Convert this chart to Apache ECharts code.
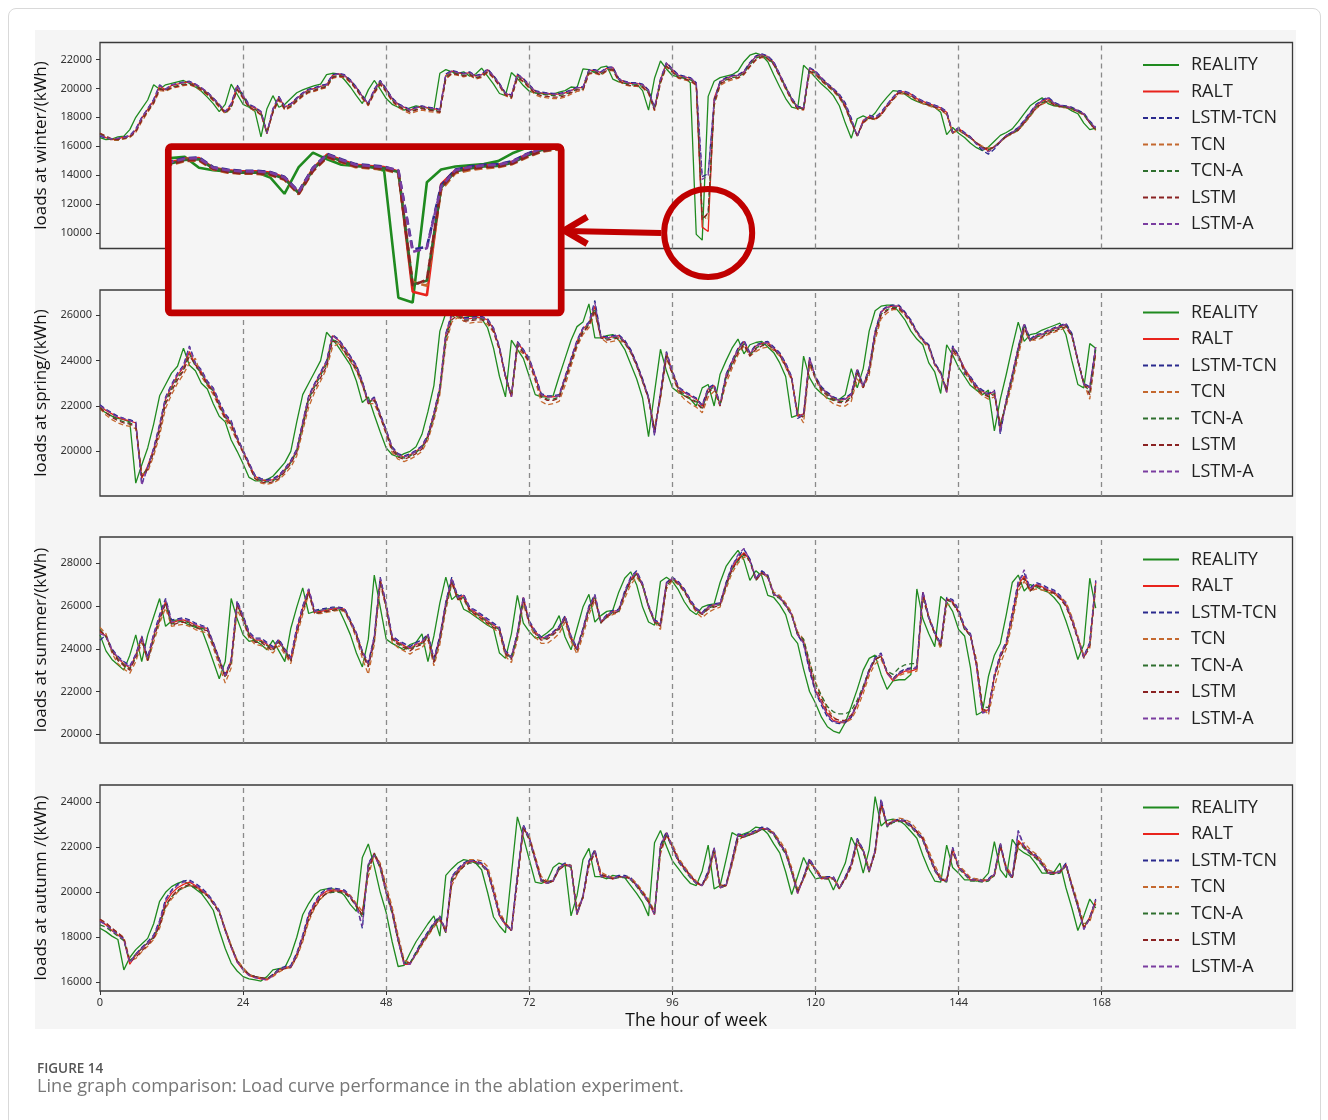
<!DOCTYPE html>
<html>
<head>
<meta charset="utf-8">
<script src="https://cdn.jsdelivr.net/npm/echarts@6/dist/echarts.min.js"></script>
<style>
  html, body { margin: 0; padding: 0; background: #ffffff; }
  #card { position: absolute; left: 8px; top: 8px; width: 1311px; height: 1130px; border: 1px solid #d9d9d9; border-radius: 8px; }
  #panel { position: absolute; left: 35px; top: 30px; width: 1261px; height: 999px; background: #f5f5f5; }
  #chart { position: absolute; left: 0; top: 0; width: 1328px; height: 1120px; }
</style>
</head>
<body>
<div id="card"></div>
<div id="panel"></div>
<div id="chart"></div>
<script>
// ---- axis ticks -----------------------------------------------------------
const hourTicks = [0, 24, 48, 72, 96, 120, 144, 168];
const dayLines = [24, 48, 72, 96, 120, 144, 168];
const winterTicks = [10000, 12000, 14000, 16000, 18000, 20000, 22000];
const springTicks = [20000, 22000, 24000, 26000];
const summerTicks = [20000, 22000, 24000, 26000, 28000];
const autumnTicks = [16000, 18000, 20000, 22000, 24000];

// ---- hourly loads (kWh), hour 0..167 of the week ---------------------------
// winter
const winterReality = [
16600,16450,16500,16650,16700,17150,18000,18600,19200,20250,19950,20250,
20350,20450,20550,20350,20100,19800,19400,18950,18400,18900,20300,19600,
18900,18700,18400,16650,18600,19500,18700,18900,19300,19700,19900,20050,
20200,20300,20950,21050,21000,20600,20100,19500,18950,19900,20550,19950,
19300,18900,18700,18500,18650,18800,18700,18650,18500,21050,21300,21150,
21050,21150,20850,21000,21400,20850,20300,19650,19500,21100,20700,20200,
19800,19700,19650,19600,19600,19750,19850,20100,20050,21350,21300,21100,
21450,21550,20650,20450,20350,20350,20300,19850,18500,20700,21900,21350,
20900,20800,20750,20400,9900,9500,19450,20500,20750,20850,20950,21200,
21850,22300,22450,22300,21850,20950,20100,19300,18700,18600,21600,21200,
20750,20300,19950,19500,18800,17600,16550,17900,18100,17900,18300,18900,
19400,19850,19800,19600,19300,19100,18950,18850,18700,18350,16800,17300,
16900,16600,16200,15900,15700,15950,16350,16750,16950,17200,17700,18250,
18800,19100,19350,18950,18800,18750,18700,18450,18250,17600,17150,17250];
const winterRALT = [
16800,16600,16450,16500,16650,16700,17100,17950,18550,19150,20150,19900,
20200,20300,20400,20450,20250,20000,19700,19300,18850,18350,18850,20150,
19500,18800,18650,18350,16850,18500,19400,18700,18900,19300,19650,19900,
20000,20150,20250,20900,21000,20900,20550,20050,19450,18900,19850,20450,
19950,19300,18900,18700,18500,18650,18750,18650,18600,18500,20900,21200,
21100,21000,21100,20850,20950,21300,20850,20300,19650,19500,20950,20650,
20200,19800,19700,19650,19600,19600,19700,19850,20050,20050,21250,21250,
21100,21400,21450,20650,20450,20350,20350,20250,19850,18600,20600,21750,
21300,20900,20800,20700,20350,10400,10100,19300,20450,20700,20850,20900,
21150,21750,22200,22350,22200,21800,20950,20100,19300,18700,18650,21400,
21150,20700,20300,19950,19500,18850,17750,16700,17800,18050,17900,18250,
18850,19350,19800,19750,19600,19300,19100,18950,18800,18650,18350,16900,
17250,16900,16600,16200,15900,15700,15950,16350,16750,16950,17200,17700,
18250,18800,19100,19300,18950,18800,18750,18650,18450,18250,17650,17200];
const winterLSTMTCN = [
16700,16550,16500,16550,16650,16750,17200,18000,18600,19250,20250,19950,
20250,20350,20450,20500,20300,20050,19750,19350,18900,18400,18950,20250,
19550,18900,18700,18400,16950,18600,19450,18750,18950,19350,19700,19950,
20050,20200,20300,20950,21050,20950,20600,20100,19500,19000,19950,20550,
20000,19350,18950,18750,18550,18700,18800,18700,18650,18550,21000,21250,
21150,21050,21150,20900,21000,21350,20900,20350,19700,19550,21000,20700,
20250,19850,19750,19700,19650,19650,19750,19900,20100,20100,21300,21300,
21150,21450,21500,20700,20500,20400,20400,20300,19900,18700,20650,21800,
21350,20950,20850,20750,20400,13900,14100,19200,20500,20750,20900,20950,
21200,21800,22250,22400,22250,21850,21000,20150,19350,18750,18700,21450,
21200,20750,20350,20000,19600,19000,17950,16650,17700,18150,18000,18350,
18900,19400,19850,19800,19650,19350,19150,19000,18850,18700,18400,17000,
17300,16950,16650,16150,15700,15450,15800,16300,16750,17000,17300,17800,
18350,18900,19200,19400,19050,18850,18800,18700,18500,18300,17750,17300];
const winterTCN = [
16900,16650,16400,16400,16500,16600,16950,17700,18350,18950,19850,19800,
20000,20100,20200,20250,20100,19850,19550,19150,18700,18250,18650,19900,
19300,18650,18450,18150,16950,18300,19200,18500,18700,19100,19450,19700,
19800,19950,20050,20700,20800,20750,20400,19900,19300,18800,19650,20250,
19750,19100,18700,18450,18250,18400,18500,18400,18350,18300,20650,21000,
20900,20800,20900,20650,20750,21100,20700,20150,19500,19300,20700,20450,
20000,19550,19400,19350,19300,19300,19400,19600,19800,19850,21000,21050,
20900,21200,21250,20500,20250,20150,20150,20050,19650,18450,20350,21500,
21100,20700,20600,20500,20200,11200,10900,18800,20200,20450,20600,20700,
20950,21500,21950,22150,22050,21650,20800,19950,19150,18550,18500,21100,
20950,20500,20150,19800,19350,18650,17600,16750,17600,17950,17850,18150,
18700,19200,19650,19600,19450,19150,18950,18800,18650,18500,18200,16900,
17100,16800,16550,16250,16000,15850,16000,16300,16650,16850,17100,17550,
18050,18600,18900,19100,18850,18700,18650,18550,18350,18150,17600,17100];
const winterTCNA = [
16850,16600,16450,16450,16550,16650,17050,17850,18450,19050,20000,19850,
20100,20200,20300,20350,20200,19950,19650,19250,18800,18300,18750,20050,
19400,18750,18550,18250,16900,18400,19300,18600,18800,19200,19550,19800,
19900,20050,20150,20800,20900,20850,20500,20000,19400,18900,19750,20400,
19850,19200,18800,18600,18400,18550,18650,18550,18500,18400,20800,21100,
21000,20900,21000,20750,20850,21200,20800,20250,19600,19400,20850,20550,
20100,19700,19600,19550,19500,19500,19600,19750,19950,19950,21150,21150,
21000,21300,21350,20600,20350,20250,20250,20150,19750,18550,20500,21650,
21200,20800,20700,20600,20300,11000,11300,19000,20350,20600,20750,20800,
21050,21650,22100,22250,22100,21700,20900,20050,19250,18650,18600,21300,
21050,20600,20250,19900,19450,18750,17700,16700,17700,18000,17850,18200,
18800,19300,19750,19700,19550,19250,19050,18900,18750,18600,18300,16900,
17200,16850,16550,16200,15900,15750,15950,16350,16700,16900,17150,17650,
18150,18700,19000,19200,18900,18750,18700,18600,18400,18200,17600,17150];
const winterLSTM = [
16900,16700,16500,16450,16550,16650,17000,17800,18400,19000,19950,19850,
20050,20150,20250,20300,20150,19900,19600,19200,18750,18300,18700,19950,
19350,18700,18500,18200,17000,18350,19250,18550,18750,19150,19500,19750,
19850,20000,20100,20750,20850,20800,20450,19950,19350,18850,19700,20300,
19800,19150,18750,18550,18350,18500,18600,18500,18450,18350,20700,21050,
20950,20850,20950,20700,20800,21150,20750,20200,19550,19350,20750,20500,
20050,19650,19500,19450,19400,19400,19500,19700,19900,19900,21050,21100,
20950,21250,21300,20550,20300,20200,20200,20100,19700,18500,20400,21550,
21150,20750,20650,20550,20250,10900,11400,19000,20300,20550,20700,20750,
21000,21550,22000,22200,22050,21650,20850,20000,19200,18600,18550,21200,
21000,20550,20200,19850,19400,18700,17650,16750,17650,17950,17850,18150,
18750,19250,19700,19650,19500,19200,19000,18850,18700,18550,18250,16950,
17150,16850,16600,16250,15950,15800,15950,16300,16650,16900,17100,17600,
18100,18650,18950,19150,18850,18750,18700,18600,18400,18200,17600,17100];
const winterLSTMA = [
16750,16600,16500,16550,16600,16700,17150,17950,18600,19200,20200,19950,
20250,20350,20400,20450,20300,20050,19750,19300,18900,18400,18900,20200,
19500,18850,18700,18400,16900,18550,19400,18750,18900,19300,19650,19900,
20000,20150,20250,20900,21000,20900,20550,20050,19450,18950,19900,20500,
19950,19300,18900,18700,18500,18650,18750,18650,18600,18500,20950,21200,
21100,21000,21100,20850,20950,21300,20850,20300,19650,19500,20950,20650,
20200,19800,19700,19650,19600,19600,19700,19850,20050,20050,21250,21250,
21100,21400,21450,20650,20450,20350,20350,20250,19850,18650,20600,21750,
21300,20900,20800,20700,20450,13700,14000,19100,20450,20700,20850,20900,
21150,21750,22200,22350,22200,21800,20950,20100,19300,18700,18650,21400,
21150,20700,20300,19950,19550,18900,17850,16700,17750,18100,17950,18300,
18850,19350,19800,19750,19600,19300,19100,18950,18800,18650,18350,16950,
17250,16900,16600,16150,15850,15600,15900,16350,16750,16950,17250,17750,
18300,18850,19150,19350,19000,18850,18750,18650,18450,18250,17700,17250];

// spring
const springReality = [
21850,21700,21550,21450,21400,21300,18600,19400,20150,21200,22450,22950,
23450,23750,24550,23800,23550,23000,22750,22100,21550,21300,20500,20000,
19450,18850,18700,18700,18750,18900,19200,19500,20000,21300,22500,23000,
23500,24000,25250,24950,24600,24200,23800,23100,22150,22400,21600,20850,
20150,19850,19750,19900,20000,20200,20750,21750,22900,25300,26100,26300,
25900,25900,25950,25950,25850,25450,24550,23300,22400,24900,24500,24100,
23300,22500,22400,22400,22450,23300,24100,24900,25500,25700,26500,25000,
25000,25100,25150,24900,24500,23850,23200,22350,20650,22600,24500,23550,
22800,22600,22450,22300,22000,22800,22950,22000,23400,24000,24550,24950,
24300,24700,24800,24850,24600,24350,23900,23300,21500,21600,24200,23250,
22800,22550,22350,22250,22300,22500,23650,22800,23650,25300,26200,26400,
26450,26450,26150,25800,25300,24950,24700,23900,23500,22550,24700,24250,
23700,23300,22900,22700,22500,22700,20900,22300,23400,24600,25700,24850,
25150,25200,25350,25450,25550,25650,25150,24000,22950,22800,24750,24550];
const springRALT = [
22000,21800,21650,21500,21400,21350,21250,18800,19350,20100,21100,22300,
22850,23350,23700,24400,23800,23500,23000,22700,22100,21550,21250,20550,
20000,19450,18900,18750,18700,18750,18900,19200,19550,20050,21250,22400,
22950,23450,23950,25100,24900,24550,24150,23750,23050,22150,22350,21600,
20900,20150,19850,19750,19850,20000,20200,20700,21650,22800,25150,26000,
26200,25850,25850,25900,25900,25800,25400,24550,23300,22400,24800,24450,
24050,23300,22500,22400,22400,22450,23250,24050,24850,25400,25650,26400,
25050,25000,25050,25100,24850,24450,23850,23150,22350,20800,22550,24350,
23500,22800,22600,22450,22300,22000,22750,22900,22050,23350,23950,24500,
24850,24300,24650,24750,24800,24550,24300,23850,23250,21550,21650,24100,
23250,22800,22550,22350,22250,22300,22500,23600,22850,23650,25250,26150,
26350,26400,26400,26100,25750,25250,24900,24650,23850,23450,22600,24600,
24200,23650,23250,22850,22650,22500,22650,20950,22250,23350,24550,25600,
24900,25100,25150,25300,25400,25500,25600,25150,24000,22950,22800,24600];
const springLSTMTCN = [
22050,21850,21700,21550,21450,21400,21300,18550,19300,20150,21200,22400,
22950,23450,23800,24650,23900,23600,23100,22800,22200,21650,21350,20650,
20050,19500,18950,18800,18750,18800,18950,19250,19600,20100,21300,22450,
23000,23500,24000,25150,24950,24600,24200,23800,23100,22200,22400,21650,
20950,20200,19900,19800,19900,20050,20250,20750,21700,22850,25200,26100,
26300,25900,25900,25950,25950,25850,25450,24600,23350,22450,24850,24500,
24100,23350,22550,22450,22450,22500,23300,24100,24900,25450,25700,26650,
25100,25050,25100,25150,24900,24500,23900,23200,22400,20700,22600,24400,
23550,22850,22650,22500,22350,22050,22800,22950,22100,23400,24000,24550,
24900,24350,24700,24800,24850,24600,24350,23900,23300,21450,21600,24150,
23300,22850,22600,22400,22300,22350,22550,23650,22900,23700,25300,26200,
26400,26450,26450,26150,25800,25300,24950,24700,23900,23500,22650,24650,
24250,23400,23300,22900,22700,22550,22700,20750,22300,23400,24600,25650,
24950,25150,25200,25350,25450,25550,25650,25200,24050,23000,22850,24650];
const springTCN = [
21900,21600,21400,21250,21150,21100,21000,19000,19100,19800,20700,21900,
22500,23000,23400,23900,24100,23300,22900,22500,21950,21400,21000,20450,
19950,19350,18800,18600,18550,18600,18750,19000,19300,19800,20900,21950,
22600,23100,23650,24600,24750,24350,23950,23550,22900,22100,22100,21500,
20750,19950,19650,19550,19650,19800,20000,20500,21350,22500,24700,25700,
25900,25750,25650,25700,25700,25600,25250,24450,23350,22450,24500,24300,
23900,23100,22200,22050,22100,22200,22900,23750,24600,25150,25450,26100,
25000,24800,24850,24900,24750,24350,23750,23050,22300,21050,22300,24100,
23400,22600,22300,22100,21950,21700,22400,22650,22000,23000,23650,24250,
24650,24200,24400,24550,24600,24450,24200,23700,23150,21700,21250,23800,
23200,22600,22300,22100,22000,22000,22200,23200,22800,23350,24900,25850,
26100,26250,26250,26000,25650,25200,24850,24550,23800,23400,22800,24350,
24150,23500,23100,22700,22450,22300,22400,21250,22000,23000,24200,25300,
24900,24900,25000,25150,25250,25350,25450,25050,24000,23000,22300,24300];
const springTCNA = [
21950,21700,21550,21400,21300,21250,21150,18900,19250,20000,21000,22200,
22750,23250,23600,24300,23750,23450,22950,22650,22050,21500,21200,20550,
20000,19400,18850,18700,18650,18700,18850,19150,19500,20000,21150,22300,
22850,23350,23850,24950,24800,24450,24050,23650,23000,22150,22300,21550,
20850,20100,19800,19700,19800,19950,20150,20650,21550,22700,25000,25900,
26100,25800,25800,25850,25850,25750,25350,24550,23350,22450,24700,24400,
24000,23250,22450,22300,22300,22400,23150,23950,24750,25300,25600,26300,
25050,24950,25000,25050,24800,24400,23800,23100,22350,20900,22450,24250,
23450,22750,22500,22350,22200,21900,22650,22850,22050,23250,23850,24400,
24750,24250,24550,24700,24750,24500,24250,23800,23200,21600,21550,24000,
23250,22750,22500,22300,22200,22200,22400,23500,22850,23550,25150,26050,
26250,26350,26350,26050,25700,25250,24900,24650,23850,23450,22700,24500,
24200,23600,23200,22800,22600,22450,22550,21100,22200,23250,24450,25500,
24900,25050,25100,25250,25350,25450,25550,25100,24000,23000,22600,24500];
const springLSTM = [
21900,21700,21500,21350,21250,21200,21100,18900,19200,19950,20900,22100,
22650,23150,23550,24200,23850,23400,22950,22600,22000,21450,21150,20500,
19950,19400,18800,18650,18600,18650,18800,19100,19450,19950,21050,22200,
22750,23250,23750,24850,24800,24400,24000,23600,22950,22100,22250,21550,
20800,20050,19750,19650,19750,19900,20100,20600,21500,22650,24900,25800,
26000,25750,25750,25800,25800,25700,25300,24500,23300,22400,24650,24350,
23950,23200,22400,22250,22250,22350,23100,23900,24700,25250,25550,26200,
25000,24900,24950,25000,24800,24400,23800,23100,22300,20950,22400,24200,
23400,22700,22450,22300,22150,21850,22600,22800,22000,23200,23800,24350,
24700,24200,24500,24650,24700,24500,24250,23750,23200,21650,21500,23950,
23200,22700,22450,22250,22150,22150,22350,23450,22800,23500,25100,26000,
26200,26300,26300,26050,25700,25250,24900,24600,23850,23450,22700,24450,
24150,23550,23150,22750,22550,22400,22500,21150,22150,23200,24400,25450,
24850,25000,25050,25200,25300,25400,25500,25100,24000,23000,22500,24400];
const springLSTMA = [
22000,21850,21650,21500,21450,21350,21250,18500,19300,20100,21150,22350,
22900,23400,23750,24600,23850,23550,23050,22750,22150,21600,21300,20600,
20000,19450,18900,18750,18700,18750,18900,19200,19550,20050,21250,22400,
22950,23450,23950,25100,24900,24550,24150,23750,23050,22150,22350,21600,
20900,20150,19850,19750,19850,20000,20200,20700,21650,22800,25150,26050,
26250,25850,25850,25900,25900,25800,25400,24550,23300,22400,24800,24450,
24050,23300,22500,22400,22400,22450,23250,24050,24850,25400,25650,26550,
25050,25000,25050,25100,24850,24450,23850,23150,22350,20750,22550,24350,
23500,22800,22600,22450,22300,22000,22750,22900,22050,23350,23950,24500,
24850,24300,24650,24750,24800,24550,24300,23850,23250,21500,21650,24100,
23250,22800,22550,22350,22250,22300,22500,23600,22850,23650,25250,26150,
26350,26400,26400,26100,25750,25250,24900,24650,23850,23450,22600,24600,
24200,23650,23250,22850,22650,22500,22650,20850,22250,23350,24550,25600,
24900,25100,25150,25300,25400,25500,25600,25150,24000,22950,22800,24600];

// summer
const summerReality = [
24650,23900,23500,23250,23000,23700,24650,23400,24650,25500,26350,25050,
25300,25350,25250,25100,25000,24950,24200,23400,22600,23400,26350,25400,
24650,24350,24400,24200,23950,24400,23900,23400,24950,25950,26850,25650,
25750,25800,25850,25900,25900,25300,24650,23800,23150,24450,27450,25950,
24450,24250,24100,23950,24200,24300,24700,23400,24600,26150,27350,26300,
26550,25850,25700,25500,25300,25100,24950,23800,23550,24700,26500,25200,
24800,24500,24550,24750,25000,25550,24550,23950,24950,25950,26550,25250,
25550,25750,25800,26650,27300,27600,27000,25950,25250,25100,27150,27350,
27150,26750,26200,25800,25600,25950,26050,26100,27100,27850,28250,28600,
28150,27200,27650,27400,26500,26400,26050,25600,24600,24250,23050,22000,
21450,20800,20350,20150,20050,20550,21300,22100,23000,23550,23700,22800,
22100,22500,22550,22550,22800,26800,25400,24700,24100,26450,26200,25750,
24900,24600,23100,20900,21050,22700,23700,24250,25600,27100,27450,26700,
27000,26900,26750,26650,26400,26050,25300,24450,23500,24200,27300,25900];
const summerRALT = [
24800,24600,23950,23550,23300,23100,23700,24550,23500,24600,25450,26200,
25200,25300,25350,25250,25100,25000,24950,24250,23500,22750,23450,26150,
25450,24700,24400,24400,24200,24000,24400,23950,23500,24900,25900,26750,
25700,25750,25800,25850,25900,25850,25300,24700,23850,23250,24500,27250,
26000,24500,24300,24150,24000,24200,24300,24650,23450,24550,26100,27250,
26350,26500,25850,25700,25500,25300,25100,24950,23850,23600,24700,26400,
25250,24800,24500,24550,24750,25000,25500,24550,24000,24900,25900,26450,
25250,25550,25750,25800,26600,27250,27550,27000,26000,25300,25150,27050,
27300,27100,26750,26250,25850,25650,25950,26050,26100,27050,27800,28200,
28500,28150,27250,27600,27400,26550,26400,26050,25600,24650,24300,23100,
22050,21500,20950,20650,20550,20550,20800,21400,22100,22950,23500,23650,
22850,22500,22800,22950,22950,23050,26650,25450,24750,24200,26350,26200,
25750,24950,24650,23200,21050,21150,22700,23650,24250,25550,27000,27400,
26750,27000,26900,26750,26650,26400,26050,25350,24500,23600,24250,27100];
const summerLSTMTCN = [
24400,24650,24000,23650,23400,23200,23750,24600,23600,24700,25600,26350,
25350,25400,25450,25350,25200,25100,25000,24300,23550,22800,23500,26250,
25550,24800,24500,24500,24300,24100,24450,24000,23600,25000,26000,26800,
25800,25850,25900,25950,25950,25900,25350,24750,23900,23350,24600,27350,
26100,24600,24400,24250,24100,24300,24400,24700,23550,24600,26200,27350,
26450,26550,25950,25800,25600,25400,25200,25000,23900,23650,24750,26450,
25300,24850,24550,24600,24800,25050,25550,24600,24050,24950,26000,26550,
25300,25600,25800,25850,26700,27350,27650,27050,26050,25350,25200,27100,
27350,27150,26800,26300,25900,25700,26000,26100,26150,27100,27900,28300,
28650,28200,27300,27650,27450,26600,26450,26100,25650,24650,24200,22950,
21950,21350,20800,20550,20500,20550,20800,21450,22200,23050,23600,23800,
22900,22600,22900,23050,23100,23150,26700,25500,24800,24250,26400,26300,
25850,25050,24700,23250,21000,21100,22800,23750,24350,25700,27150,27550,
26850,27100,27000,26850,26750,26500,26150,25450,24550,23650,24300,27200];
const summerTCN = [
25000,24700,23800,23300,23050,22850,23400,24300,23400,24300,25200,25900,
25050,25100,25150,25050,24900,24800,24750,24050,23200,22400,23100,25800,
25300,24500,24200,24150,24000,23800,24150,23750,23300,24600,25600,26550,
25650,25650,25700,25750,25800,25750,25200,24500,23550,22800,24200,27000,
25900,24300,24050,23900,23750,23950,24050,24400,23200,24200,25800,27050,
26300,26300,25750,25550,25350,25150,24950,24750,23650,23350,24400,26100,
25150,24550,24250,24250,24450,24700,25250,24350,23750,24600,25600,26250,
25300,25450,25600,25700,26350,27000,27350,26950,25950,25250,24900,26800,
27200,27000,26650,26150,25700,25450,25700,25850,25950,26800,27550,28000,
28300,28100,27300,27500,27350,26650,26500,26150,25700,24800,24450,23400,
22450,21800,21200,20800,20600,20550,20700,21200,21900,22750,23300,23500,
22900,22550,22750,22850,22900,22950,26300,25500,24700,24000,26050,26100,
25700,25000,24600,23500,21300,20900,22200,23300,24000,25200,26700,27150,
26700,26800,26750,26650,26550,26400,26200,25500,24600,23650,24000,26900];
const summerTCNA = [
24900,24550,23900,23500,23250,23050,23600,24450,23450,24500,25350,26100,
25150,25250,25300,25200,25050,24950,24900,24200,23450,22700,23350,26050,
25400,24650,24350,24350,24150,23950,24350,23900,23450,24800,25800,26650,
25650,25700,25750,25800,25850,25800,25250,24650,23800,23200,24400,27150,
25950,24450,24250,24100,23950,24150,24250,24600,23400,24450,26000,27150,
26300,26400,25800,25650,25450,25250,25050,24900,23800,23550,24600,26300,
25200,24750,24450,24500,24700,24950,25450,24500,23950,24850,25850,26400,
25200,25500,25700,25750,26550,27200,27500,26950,25950,25250,25100,26950,
27250,27050,26700,26200,25800,25600,25900,26000,26050,26950,27700,28100,
28400,28100,27200,27550,27350,26500,26350,26000,25550,24700,24450,23400,
22350,21800,21300,21050,20950,20950,21100,21600,22250,23000,23500,23650,
22950,22800,23100,23250,23300,23300,26500,25400,24700,24150,26300,26150,
25700,24900,24600,23300,21300,21250,22650,23600,24200,25450,26900,27300,
26700,26950,26850,26700,26600,26350,26000,25300,24450,23600,24200,27000];
const summerLSTM = [
24850,24600,23900,23450,23200,23000,23600,24450,23450,24500,25350,26150,
25100,25200,25250,25150,25000,24900,24850,24150,23400,22650,23350,26050,
25350,24600,24300,24300,24100,23900,24300,23850,23400,24750,25750,26650,
25650,25700,25750,25800,25850,25800,25250,24600,23750,23150,24400,27150,
25950,24450,24200,24050,23900,24100,24200,24550,23350,24400,26000,27150,
26300,26400,25800,25600,25400,25200,25000,24850,23750,23500,24600,26300,
25200,24700,24400,24450,24650,24900,25400,24450,23900,24800,25800,26350,
25200,25500,25650,25750,26550,27150,27500,26950,25950,25250,25050,26950,
27250,27050,26700,26200,25800,25600,25850,25950,26050,26950,27700,28150,
28450,28100,27200,27550,27350,26550,26400,26050,25600,24700,24350,23250,
22200,21650,21050,20750,20650,20650,20900,21450,22150,22950,23500,23650,
22900,22600,22850,23000,23050,23100,26550,25450,24700,24150,26300,26150,
25700,24950,24600,23300,21150,21100,22650,23600,24200,25450,26900,27300,
26700,26950,26850,26700,26600,26350,26000,25300,24450,23550,24150,27000];
const summerLSTMA = [
24700,24600,23950,23600,23350,23150,23700,24550,23550,24650,25500,26300,
25250,25350,25400,25300,25150,25050,24950,24250,23500,22750,23450,26200,
25500,24750,24450,24450,24250,24050,24400,23950,23550,24950,25950,26800,
25750,25800,25850,25900,25900,25850,25300,24700,23850,23300,24550,27300,
26050,24550,24350,24200,24050,24250,24350,24650,23500,24550,26150,27300,
26400,26500,25900,25750,25550,25350,25150,24950,23850,23600,24700,26400,
25250,24800,24500,24550,24750,25000,25500,24550,24000,24900,25950,26500,
25250,25550,25750,25800,26650,27300,27600,27000,26000,25300,25150,27050,
27300,27100,26750,26250,25850,25650,25950,26050,26100,27050,27850,28400,
28700,28150,27250,27600,27400,26550,26400,26050,25600,24650,24250,23050,
22000,21450,20900,20600,20550,20600,20850,21450,22150,23000,23550,23750,
22850,22550,22850,23000,23050,23100,26650,25450,24750,24200,26350,26250,
25800,25000,24650,23200,21000,21050,22750,23700,24300,25600,27050,27700,
26800,27050,26950,26800,26700,26450,26100,25400,24500,23600,24250,27150];

// autumn
const autumnReality = [
18400,18250,18050,17900,16550,17100,17450,17700,17950,18600,19600,20000,
20250,20400,20500,20350,20150,19950,19600,19200,18300,17500,16850,16500,
16250,16150,16100,16050,16250,16550,16600,16650,17200,18000,19000,19500,
19900,20100,20150,20150,20100,19850,19450,19150,21550,22150,21150,20000,
19100,17800,16700,16750,17300,17800,18200,18600,18950,18050,20750,21050,
21300,21450,21400,21300,21000,20000,18900,18500,18200,20800,23350,22450,
21450,20450,20400,20500,21100,21300,21200,18950,19850,21450,21950,20700,
20700,20600,20750,20700,20650,20300,19950,19550,18950,22200,22750,22050,
21400,21050,20700,20400,20300,20950,22100,20150,20300,21450,22650,22500,
22600,22700,22900,22850,22600,22150,21750,20900,19900,20700,21550,21000,
20600,20650,20700,20100,20700,21300,22450,21900,20850,21900,24250,22950,
23200,23250,23200,23000,22700,22400,21650,21000,20500,20450,22100,21100,
20850,20550,20550,20500,20550,20850,22250,21000,20650,22350,21950,21750,
21600,21250,20850,20850,20900,21300,20200,19300,18300,18950,19700,19300];
const autumnRALT = [
18750,18550,18300,18100,17900,16800,17200,17500,17750,18000,18600,19550,
19950,20200,20350,20450,20300,20100,19900,19550,19150,18300,17550,16900,
16550,16300,16200,16150,16100,16300,16550,16650,16700,17250,18000,18950,
19450,19850,20050,20100,20100,20050,19800,19400,19000,21200,21650,21100,
20000,19100,17850,16800,16800,17300,17800,18200,18600,18900,18200,20650,
20950,21250,21400,21350,21250,20950,20000,18950,18550,18300,20700,22900,
22400,21450,20500,20400,20500,21100,21250,21150,19000,19800,21350,21850,
20700,20700,20600,20700,20700,20600,20300,19950,19550,19000,22050,22650,
22000,21400,21050,20700,20400,20300,20900,21950,20200,20300,21400,22550,
22500,22600,22700,22850,22800,22600,22150,21750,20900,19950,20650,21450,
21000,20600,20650,20650,20150,20650,21250,22350,21850,20900,21850,24050,
22950,23150,23200,23150,22950,22650,22350,21650,21000,20550,20500,21950,
21100,20850,20550,20550,20500,20550,20800,22150,21000,20650,22300,22000,
21750,21550,21250,20850,20850,20900,21250,20250,19350,18400,18900,19650];
const autumnLSTMTCN = [
18700,18600,18350,18150,17950,16900,17250,17550,17800,18100,18750,19700,
20100,20350,20500,20550,20400,20200,19950,19600,19200,18350,17600,16950,
16600,16350,16250,16200,16150,16350,16600,16700,16750,17300,18100,19050,
19550,19950,20150,20200,20150,20100,19850,19450,18400,21300,21700,21150,
20050,19150,17900,16850,16850,17350,17850,18250,18650,18950,18300,20700,
21050,21300,21450,21400,21300,21000,20050,19000,18600,18350,20750,23000,
22450,21500,20550,20450,20550,21150,21300,21200,19050,19850,21400,21900,
20750,20750,20650,20750,20750,20650,20350,20000,19600,19050,22100,22700,
22050,21450,21100,20750,20450,20350,20950,22000,20250,20350,21450,22600,
22550,22650,22750,22900,22850,22650,22200,21800,20950,20000,20700,21500,
21050,20650,20700,20700,20200,20700,21300,22400,21900,20950,21900,24150,
23000,23200,23250,23200,23000,22700,22400,21700,21050,20600,20550,22000,
21150,20900,20600,20600,20550,20600,20850,22200,21050,20700,22750,22050,
21800,21650,21300,20900,20900,20950,21300,20300,19400,18350,18850,19700];
const autumnTCN = [
18800,18600,18400,18200,18000,17000,17050,17350,17600,17900,18400,19300,
19700,20000,20200,20300,20250,20050,19850,19550,19150,18400,17650,17000,
16650,16350,16250,16200,16150,16250,16450,16600,16650,17100,17800,18700,
19300,19700,19950,20050,20050,20000,19850,19500,19150,20700,21700,21300,
20300,19350,18100,17000,16850,17200,17650,18050,18450,18750,18350,20300,
20850,21200,21450,21450,21400,21150,20250,19150,18650,18300,20400,22800,
22500,21600,20700,20500,20550,21000,21250,21200,19300,19750,21150,21800,
20900,20750,20650,20700,20700,20650,20400,20050,19700,19150,21700,22500,
22150,21550,21150,20800,20500,20300,20700,21800,20350,20250,21200,22300,
22500,22600,22700,22800,22800,22650,22300,21900,21100,20150,20550,21250,
21100,20700,20650,20650,20250,20550,21100,22100,21900,21050,21700,23800,
23000,23200,23300,23250,23100,22800,22500,21850,21200,20700,20550,21750,
21200,20950,20650,20600,20550,20550,20750,21950,21150,20750,22000,22200,
21900,21700,21400,21000,20900,20900,21150,20400,19550,18600,18700,19500];
const autumnTCNA = [
18550,18450,18250,18050,17850,16950,17250,17500,17750,18000,18550,19400,
19800,20050,20200,20300,20200,20000,19850,19500,19100,18300,17600,16950,
16600,16350,16250,16200,16150,16350,16550,16650,16700,17200,17950,18850,
19350,19750,19950,20000,20000,19950,19750,19350,18900,21150,21750,21050,
19950,19050,17850,16850,16850,17300,17750,18150,18550,18850,18200,20550,
20900,21150,21300,21300,21200,20900,19950,18950,18550,18300,20600,22900,
22300,21400,20500,20400,20500,21050,21200,21100,19050,19800,21300,21800,
20700,20650,20600,20650,20650,20550,20250,19900,19550,19050,21950,22550,
21950,21350,21000,20650,20400,20300,20850,21900,20200,20300,21350,22500,
22450,22550,22650,22800,22750,22550,22100,21700,20900,20000,20650,21400,
20950,20600,20600,20600,20150,20600,21200,22300,21800,20900,21800,24000,
22900,23100,23150,23100,22900,22600,22300,21600,20950,20550,20450,21900,
21050,20800,20500,20500,20450,20500,20750,22100,20950,20600,22200,21950,
21700,21500,21200,20800,20800,20850,21200,20250,19350,18450,18900,19600];
const autumnLSTM = [
18800,18650,18400,18200,17950,16900,17100,17400,17650,17950,18500,19400,
19800,20100,20250,20350,20250,20050,19850,19500,19100,18350,17600,16950,
16600,16350,16250,16200,16150,16300,16500,16600,16650,17150,17900,18800,
19350,19750,19950,20050,20050,20000,19750,19400,19000,20900,21750,21200,
20150,19200,17950,16900,16850,17250,17700,18100,18500,18800,18250,20450,
20850,21150,21350,21350,21250,20950,20100,19050,18600,18300,20500,22850,
22400,21500,20600,20450,20500,21000,21200,21150,19150,19750,21200,21750,
20800,20700,20600,20700,20700,20600,20300,20000,19600,19100,21850,22550,
22050,21450,21100,20750,20450,20300,20800,21850,20300,20300,21300,22400,
22450,22550,22650,22800,22800,22600,22200,21800,21000,20050,20600,21350,
21000,20650,20600,20600,20200,20600,21150,22200,21850,20950,21750,23900,
22950,23150,23200,23150,22950,22700,22400,21700,21050,20600,20500,21850,
21100,20850,20550,20550,20500,20550,20750,22050,21050,20650,22150,22050,
21800,21600,21300,20900,20850,20900,21200,20300,19450,18450,18800,19550];
const autumnLSTMA = [
18700,18550,18300,18100,17900,16850,17250,17500,17750,18050,18700,19650,
20050,20300,20450,20500,20350,20150,19900,19550,19150,18300,17550,16900,
16550,16300,16200,16150,16100,16300,16550,16650,16700,17250,18050,19000,
19500,19900,20100,20150,20100,20050,19800,19400,18500,21250,21650,21100,
20000,19100,17850,16800,16800,17300,17800,18200,18600,18900,18250,20650,
21000,21250,21400,21350,21250,20950,20000,18950,18550,18300,20700,22950,
22400,21450,20500,20400,20500,21100,21250,21150,19000,19800,21350,21850,
20700,20700,20600,20700,20700,20600,20300,19950,19550,19000,22050,22650,
22000,21400,21050,20700,20400,20300,20900,21950,20200,20300,21400,22550,
22500,22600,22700,22850,22800,22600,22150,21750,20900,19950,20650,21450,
21000,20600,20650,20650,20150,20650,21250,22350,21850,20900,21850,24100,
22950,23150,23200,23150,22950,22650,22350,21650,21000,20550,20500,21950,
21100,20850,20550,20550,20500,20550,20800,22150,21000,20650,22700,22000,
21750,21600,21250,20850,20850,20900,21250,20250,19350,18350,18850,19650];

// ---- styling ---------------------------------------------------------------
const MODELS = ['REALITY', 'RALT', 'LSTM-TCN', 'TCN', 'TCN-A', 'LSTM', 'LSTM-A'];
const COLORS = ['#1f8a1f', '#e8231c', '#2a2a8e', '#c4682e', '#2e6f2e', '#8a2222', '#7a3da0'];
const DASHED = [false, false, true, true, true, true, true];
const TEXT_FONT = '"Open Sans", "Noto Sans", sans-serif';
const TICK_FONT = '"Noto Sans", "DejaVu Sans", sans-serif';
const PANEL_BG = '#f5f5f5';
const MARK_RED = '#c00000';

const PLOT_LEFT = 100, PLOT_WIDTH = 1192.5, PLOT_HEIGHT = 206;

const panels = [
  { label: 'loads at winter/(kWh)', top: 42.5, min: 8920, max: 23180, ticks: winterTicks,
    values: [winterReality, winterRALT, winterLSTMTCN, winterTCN, winterTCNA, winterLSTM, winterLSTMA] },
  { label: 'loads at spring/(kWh)', top: 290, min: 18030, max: 27115, ticks: springTicks,
    values: [springReality, springRALT, springLSTMTCN, springTCN, springTCNA, springLSTM, springLSTMA] },
  { label: 'loads at summer/(kWh)', top: 537, min: 19590, max: 29230, ticks: summerTicks,
    values: [summerReality, summerRALT, summerLSTMTCN, summerTCN, summerTCNA, summerLSTM, summerLSTMA] },
  { label: 'loads at autumn /(kWh)', top: 785, min: 15610, max: 24770, ticks: autumnTicks,
    values: [autumnReality, autumnRALT, autumnLSTMTCN, autumnTCN, autumnTCNA, autumnLSTM, autumnLSTMA] }
];

// zoomed window on the winter outage (hours 84..111)
const INSET = { left: 170.5, top: 150, width: 386, height: 158, xMin: 84, xMax: 111.1, yMin: 9050, yMax: 22120 };
const INSET_GRID = panels.length;

function modelSeries(k, values, axis, width, dash, z) {
  return {
    name: MODELS[k], type: 'line', xAxisIndex: axis, yAxisIndex: axis,
    data: values.map((v, i) => [i, v]),
    symbol: 'none', showSymbol: false, silent: true, animation: false, clip: true, z: z,
    lineStyle: { color: COLORS[k], width: width, type: DASHED[k] ? dash : 'solid' },
    itemStyle: { color: COLORS[k] }
  };
}

function dayBoundarySeries(axis, lines, style, z) {
  return {
    type: 'line', xAxisIndex: axis, yAxisIndex: axis, data: [], z: z, silent: true, animation: false,
    markLine: { silent: true, animation: false, symbol: ['none', 'none'], label: { show: false },
      lineStyle: style, data: lines.map(v => ({ xAxis: v })) }
  };
}

const plainNumber = v => String(v);
const grid = [], xAxis = [], yAxis = [], series = [], legend = [];
const last = panels.length - 1;

panels.forEach((p, i) => {
  grid.push({ left: PLOT_LEFT, top: p.top, width: PLOT_WIDTH, height: PLOT_HEIGHT, show: true,
    borderColor: '#3a3a3a', borderWidth: 1.3, backgroundColor: 'transparent' });
  xAxis.push({
    gridIndex: i, type: 'value', min: 0, max: 200,
    axisLine: { show: false }, splitLine: { show: false },
    axisTick: i === last ? { show: true, customValues: hourTicks, length: 4, lineStyle: { color: '#333' } } : { show: false },
    axisLabel: i === last ? { show: true, customValues: hourTicks, formatter: plainNumber, fontSize: 11, color: '#333', margin: 6, fontFamily: TICK_FONT } : { show: false },
    name: i === last ? 'The hour of week' : '', nameLocation: 'middle', nameGap: 21,
    nameTextStyle: { fontSize: 17.5, color: '#111', fontFamily: TEXT_FONT }
  });
  yAxis.push({
    gridIndex: i, type: 'value', min: p.min, max: p.max,
    axisLine: { show: false }, splitLine: { show: false },
    axisTick: { show: true, customValues: p.ticks, length: 4, lineStyle: { color: '#333' } },
    axisLabel: { customValues: p.ticks, formatter: plainNumber, fontSize: 11, color: '#333', margin: 8, fontFamily: TICK_FONT },
    name: p.label, nameLocation: 'middle', nameGap: 38,
    nameTextStyle: { fontSize: 17, color: '#111', fontFamily: TEXT_FONT }
  });
  series.push(dayBoundarySeries(i, dayLines, { color: '#8a8a8a', type: [5, 4], width: 1.3 }, 1));
  p.values.forEach((vals, k) => series.push(modelSeries(k, vals, i, 1.3, [5, 3], 2)));
  legend.push({
    orient: 'vertical', left: 1137, top: p.top + 7.5, itemWidth: 36, itemHeight: 14, itemGap: 6.5,
    data: MODELS, selectedMode: false,
    itemStyle: { opacity: 0 },
    textStyle: { fontSize: 18, color: '#222', fontFamily: TEXT_FONT, lineHeight: 20, padding: [0, 0, 0, 7] }
  });
});

// inset axes and lines
grid.push({ left: INSET.left, top: INSET.top, width: INSET.width, height: INSET.height, show: false });
xAxis.push({ gridIndex: INSET_GRID, type: 'value', min: INSET.xMin, max: INSET.xMax, show: false });
yAxis.push({ gridIndex: INSET_GRID, type: 'value', min: INSET.yMin, max: INSET.yMax, show: false });
series.push(dayBoundarySeries(INSET_GRID, dayLines.filter(v => v > INSET.xMin && v < INSET.xMax),
  { color: '#8c8c8c', type: [3, 1.6], width: 3.2 }, 10));
panels[0].values.forEach((vals, k) => series.push(modelSeries(k, vals, INSET_GRID, 2.6, [8, 4], 11)));

const chart = echarts.init(document.getElementById('chart'), null, { renderer: 'canvas' });
chart.setOption({
  animation: false,
  backgroundColor: 'transparent',
  grid, xAxis, yAxis, series, legend
});

// callout: circle on the outage in the winter panel, arrow to the zoomed box
const hit = chart.convertToPixel({ gridIndex: 0 }, [102, 10000]);
const R = 44;
const box = { x: INSET.left - 2.2, y: INSET.top - 3.3, w: INSET.width + 6.9, h: INSET.height + 8.2 };
const boxRight = box.x + box.w;

chart.setOption({
  graphic: [
    { type: 'rect', silent: true, z: 5, shape: { x: box.x, y: box.y, width: box.w, height: box.h, r: 3 },
      style: { fill: PANEL_BG } },
    { type: 'rect', silent: true, z: 20, shape: { x: box.x, y: box.y, width: box.w, height: box.h, r: 3 },
      style: { fill: 'none', stroke: MARK_RED, lineWidth: 6.7 } },
    { type: 'circle', silent: true, z: 20, shape: { cx: hit[0], cy: hit[1], r: R },
      style: { fill: 'none', stroke: MARK_RED, lineWidth: 6 } },
    { type: 'line', silent: true, z: 20,
      shape: { x1: hit[0] - R - 3, y1: hit[1], x2: boxRight + 6, y2: hit[1] - 2 },
      style: { stroke: MARK_RED, lineWidth: 6 } },
    { type: 'polyline', silent: true, z: 20,
      shape: { points: [[boxRight + 26, hit[1] - 16], [boxRight + 3, hit[1] - 2.5], [boxRight + 26, hit[1] + 11]] },
      style: { fill: 'none', stroke: MARK_RED, lineWidth: 6.5, lineJoin: 'miter' } },
    { type: 'text', silent: true, left: 37, top: 1062,
      style: { text: 'FIGURE 14', font: '600 13.5px ' + TEXT_FONT, fill: '#555' } },
    { type: 'text', silent: true, left: 37, top: 1078,
      style: { text: 'Line graph comparison: Load curve performance in the ablation experiment.',
        font: '18.2px ' + TEXT_FONT, fill: '#777' } }
  ]
});
</script>
</body>
</html>
